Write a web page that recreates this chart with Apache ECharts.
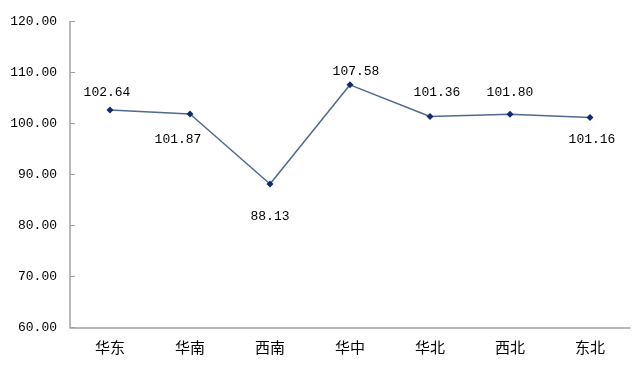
<!DOCTYPE html>
<html><head><meta charset="utf-8">
<script src="https://cdn.jsdelivr.net/npm/echarts@6/dist/echarts.min.js"></script>
<style>html,body{margin:0;padding:0;background:#fff}#c{width:636px;height:365px}</style>
</head><body><div id="c"></div>
<script>
const categories = ['华东','华南','西南','华中','华北','西北','东北'];
const values = [102.64, 101.87, 88.13, 107.58, 101.36, 101.80, 101.16];
const yTicks = [60, 70, 80, 90, 100, 110, 120];
// label placement style (not data)
const labelPos = ['top','bottom','bottom','top','top','top','bottom'];
const labelOffset = [[-3,1],[-12,8],[0,15],[6,5],[7,-6],[0,-4],[2,4]];

const chart = echarts.init(document.getElementById('c'));
chart.setOption({
  animation:false,
  grid:{left:70,right:6,top:21.5,bottom:37.5},
  xAxis:{type:'category',data:categories,boundaryGap:true,
    axisLine:{lineStyle:{color:'#a0a0a0',width:1.5}},
    axisTick:{inside:true,length:5,lineStyle:{color:'#a0a0a0'}},
    axisLabel:{color:'#000',fontSize:15,margin:12,fontFamily:'Noto Sans CJK SC'}},
  yAxis:{type:'value',min:yTicks[0],max:yTicks[yTicks.length-1],interval:10,
    axisLine:{show:true,lineStyle:{color:'#a0a0a0',width:1.5}},
    axisTick:{show:true,inside:true,length:5,lineStyle:{color:'#a0a0a0'}},
    splitLine:{show:false},
    axisLabel:{color:'#000',fontSize:13,margin:13,fontFamily:'Liberation Mono',
      formatter:v=>v.toFixed(2)}},
  series:[{type:'line',
    data:values.map((v,i)=>({value:v,label:{position:labelPos[i],offset:labelOffset[i]}})),
    symbol:'diamond',symbolSize:7,
    itemStyle:{color:'#0f2d6e'},
    lineStyle:{color:'#4f6a8f',width:1.5},
    label:{show:true,formatter:p=>p.value.toFixed(2),color:'#000',fontSize:13,fontFamily:'Liberation Mono',distance:8}
  }]
});
</script></body></html>
